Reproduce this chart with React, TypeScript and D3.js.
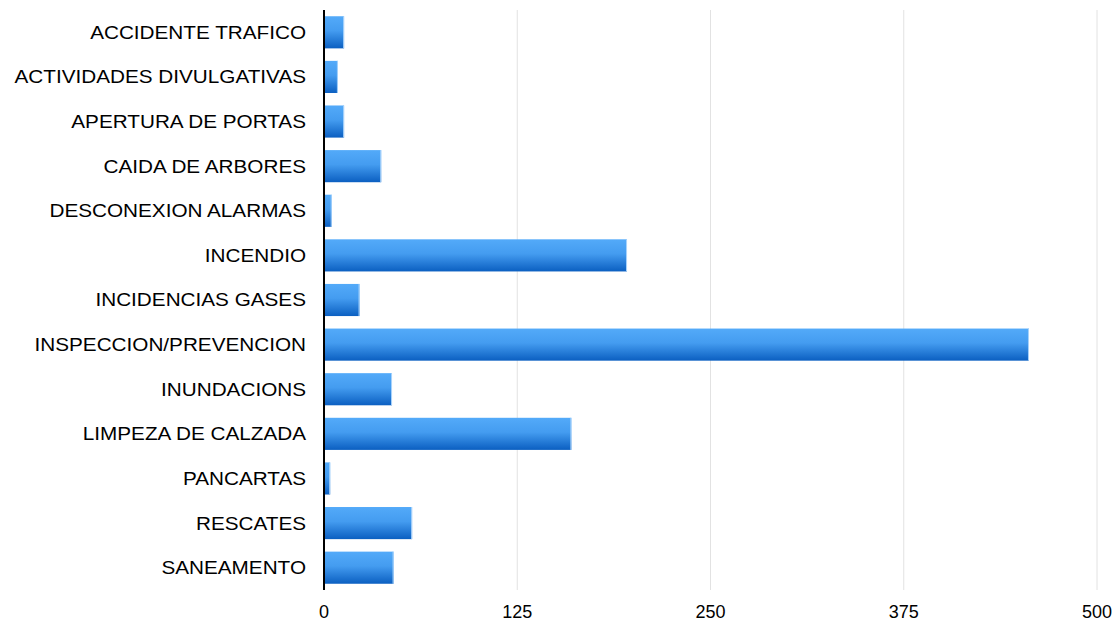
import React from "react";
import * as d3 from "d3";

const categories = [
  "ACCIDENTE TRAFICO",
  "ACTIVIDADES DIVULGATIVAS",
  "APERTURA DE PORTAS",
  "CAIDA DE ARBORES",
  "DESCONEXION ALARMAS",
  "INCENDIO",
  "INCIDENCIAS GASES",
  "INSPECCION/PREVENCION",
  "INUNDACIONS",
  "LIMPEZA DE CALZADA",
  "PANCARTAS",
  "RESCATES",
  "SANEAMENTO",
];
const values = [13, 9, 13, 37, 5, 196, 23, 456, 44, 160, 4, 57, 45];
const ticks = [0, 125, 250, 375, 500];

const W = 1119;
const H = 623;
const left = 324;
const right = 1097;
const top = 10;
const bottom = 590;

export default function App() {
  const x = d3.scaleLinear().domain([0, 500]).range([left, right]);
  const y = d3
    .scaleBand<string>()
    .domain(categories)
    .range([top, bottom])
    .paddingInner(0.28)
    .paddingOuter(0.14);
  const font = "'Liberation Sans', Arial, Helvetica, sans-serif";
  return (
    <svg
      width={W}
      height={H}
      style={{ position: "absolute", left: 0, top: 0, background: "#fff" }}
    >
      <defs>
        <linearGradient id="barGrad" x1="0" y1="0" x2="0" y2="1">
          <stop offset="0" stopColor="#53aaf9" />
          <stop offset="0.45" stopColor="#449cf0" />
          <stop offset="1" stopColor="#0b5fc1" />
        </linearGradient>
      </defs>
      {ticks
        .filter((t) => t !== 0)
        .map((t) => (
          <line
            key={t}
            x1={x(t)}
            x2={x(t)}
            y1={top}
            y2={bottom}
            stroke="#e2e2e2"
            strokeWidth={1}
          />
        ))}
      {categories.map((c, i) => (
        <g key={c}>
          <rect
            x={x(0) + 1}
            y={y(c)}
            width={x(values[i]) - x(0) - 1}
            height={y.bandwidth()}
            fill="url(#barGrad)"
          />
          <line
            x1={x(values[i]) - 0.5}
            x2={x(values[i]) - 0.5}
            y1={y(c)}
            y2={(y(c) as number) + y.bandwidth()}
            stroke="#a9d3fb"
            strokeWidth={1}
          />
          <g
            transform={`translate(306,${
              (y(c) as number) + y.bandwidth() / 2
            }) scale(1.12,1)`}
          >
            <text
              x={0}
              y={0}
              dy="0.35em"
              textAnchor="end"
              fontFamily={font}
              fontSize={18.5}
              fill="#000"
            >
              {c}
            </text>
          </g>
        </g>
      ))}
      <line x1={x(0)} x2={x(0)} y1={top} y2={bottom} stroke="#000" strokeWidth={2} />
      {ticks.map((t) => (
        <text
          key={t}
          x={x(t)}
          y={612}
          dy="0.35em"
          textAnchor="middle"
          fontFamily={font}
          fontSize={18}
          fill="#000"
        >
          {t}
        </text>
      ))}
    </svg>
  );
}
